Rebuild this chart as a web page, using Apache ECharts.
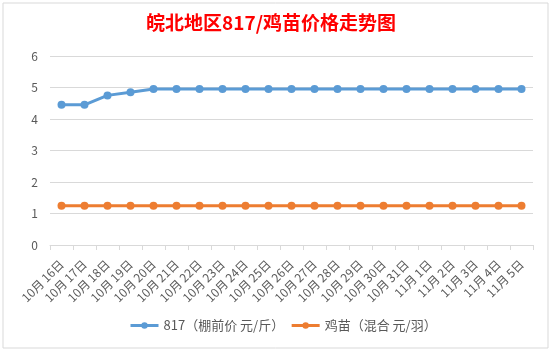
<!DOCTYPE html>
<html>
<head>
    <meta charset="UTF-8" />
    <title>皖北地区817/鸡苗价格走势图</title>
    <script type="text/javascript" src="https://cdn.jsdelivr.net/npm/echarts@6/dist/echarts.min.js"></script>
</head>
<body style="margin:0;">

<div id="main" style="width: 551px;height: 351px;"></div>

<script>
    // 日期
    var dates = ['10月 16日', '10月 17日', '10月 18日', '10月 19日', '10月 20日', '10月 21日', '10月 22日',
        '10月 23日', '10月 24日', '10月 25日', '10月 26日', '10月 27日', '10月 28日', '10月 29日',
        '10月 30日', '10月 31日', '11月 1日', '11月 2日', '11月 3日', '11月 4日', '11月 5日'];
    // 817 棚前价 元/斤
    var price817 = [4.45, 4.45, 4.75, 4.85, 4.95, 4.95, 4.95, 4.95, 4.95, 4.95, 4.95,
        4.95, 4.95, 4.95, 4.95, 4.95, 4.95, 4.95, 4.95, 4.95, 4.95];
    // 鸡苗 混合 元/羽
    var priceChick = [1.25, 1.25, 1.25, 1.25, 1.25, 1.25, 1.25, 1.25, 1.25, 1.25, 1.25,
        1.25, 1.25, 1.25, 1.25, 1.25, 1.25, 1.25, 1.25, 1.25, 1.25];
    var yTicks = [0, 6, 1];

    var font = '"Microsoft YaHei", "Noto Sans CJK SC", sans-serif';
    var mychart = echarts.init(document.getElementById('main'));

    var option = {
        backgroundColor: '#fff',
        animation: false,
        textStyle: {fontFamily: font},
        title: {
            text: '皖北地区817/鸡苗价格走势图',
            left: 141,
            top: 8,
            textStyle: {color: '#ff0000', fontSize: 19, fontWeight: 'bold', fontFamily: font}
        },
        graphic: [{
            type: 'rect',
            shape: {x: 3, y: 3, width: 545, height: 345},
            style: {fill: 'none', stroke: '#d9d9d9', lineWidth: 1},
            silent: true
        }],
        legend: {
            bottom: 14,
            left: 124,
            itemWidth: 28,
            itemHeight: 8,
            itemGap: 6,
            lineStyle: {width: 3},
            textStyle: {color: '#595959', fontSize: 13},
            data: ['817（棚前价 元/斤）', '鸡苗（混合 元/羽）']
        },
        grid: {left: 50, right: 18, top: 56, bottom: 106},
        xAxis: {
            type: 'category',
            data: dates,
            boundaryGap: true,
            axisLine: {lineStyle: {color: '#d9d9d9'}},
            axisTick: {show: true, alignWithLabel: false, lineStyle: {color: '#d9d9d9'}},
            axisLabel: {color: '#595959', fontSize: 12, rotate: 45, interval: 0, margin: 17}
        },
        yAxis: {
            type: 'value',
            min: yTicks[0],
            max: yTicks[1],
            interval: yTicks[2],
            axisLine: {show: false},
            axisTick: {show: false},
            axisLabel: {color: '#595959', fontSize: 12, margin: 12},
            splitLine: {lineStyle: {color: '#d9d9d9'}}
        },
        series: [{
            name: '817（棚前价 元/斤）',
            type: 'line',
            data: price817,
            symbol: 'circle',
            symbolSize: 8,
            itemStyle: {color: '#5b9bd5'},
            lineStyle: {width: 3, color: '#5b9bd5'}
        }, {
            name: '鸡苗（混合 元/羽）',
            type: 'line',
            data: priceChick,
            symbol: 'circle',
            symbolSize: 8,
            itemStyle: {color: '#ed7d31'},
            lineStyle: {width: 3, color: '#ed7d31'}
        }]
    };

    mychart.setOption(option);
</script>

</body>
</html>
